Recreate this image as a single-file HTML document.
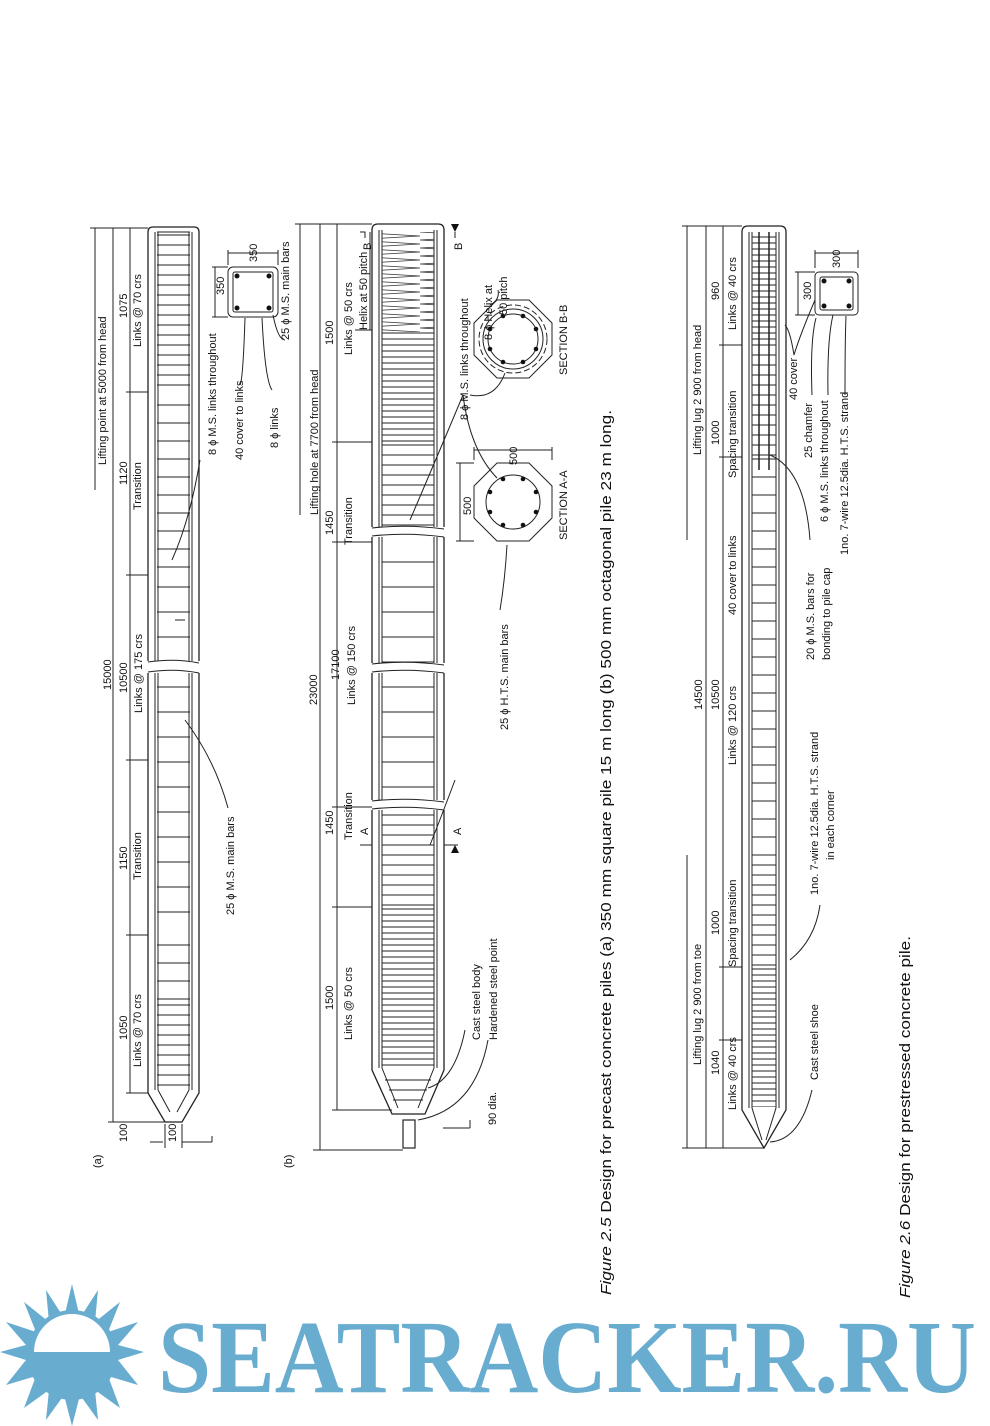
<!DOCTYPE html>
<html><head><meta charset="utf-8"><style>
html,body{margin:0;padding:0;background:#fff;}
svg{display:block;}
text{font-family:"Liberation Sans",sans-serif;fill:#111;}
.t{font-size:11px;}
.cap{font-size:15px;}
</style></head><body>
<svg width="990" height="1426" viewBox="0 0 990 1426" xmlns="http://www.w3.org/2000/svg">
<defs>
<pattern id="l10" width="10" height="10" patternUnits="userSpaceOnUse"><line x1="0" y1="5" x2="10" y2="5" stroke="#222" stroke-width="1"/></pattern>
<pattern id="l25" width="10" height="25" patternUnits="userSpaceOnUse"><line x1="0" y1="12" x2="10" y2="12" stroke="#222" stroke-width="1"/></pattern>
<pattern id="l18" width="10" height="18" patternUnits="userSpaceOnUse"><line x1="0" y1="9" x2="10" y2="9" stroke="#222" stroke-width="1"/></pattern>
<pattern id="l6" width="10" height="6" patternUnits="userSpaceOnUse"><line x1="0" y1="3" x2="10" y2="3" stroke="#222" stroke-width="1"/></pattern>
<pattern id="zz" width="70" height="8" patternUnits="userSpaceOnUse"><path d="M0 0 L70 4 L0 8" fill="none" stroke="#333" stroke-width="0.8"/></pattern>
</defs>
<g stroke="#222" fill="none" stroke-width="1">
<!-- ===== Pile (a) ===== -->
<path d="M148 232 Q148 227 153 227 L194 227 Q199 227 199 232 L199 1093 L182 1122 L165 1122 L148 1093 Z" stroke-width="1.3"/>
<rect x="157" y="232" width="33" height="858" fill="url(#l10)" stroke="none"/>
<rect x="157" y="390" width="33" height="700" fill="#fff" stroke="none"/>
<rect x="157" y="390" width="33" height="180" fill="url(#l18)" stroke="none"/>
<rect x="157" y="570" width="33" height="360" fill="url(#l25)" stroke="none"/>
<rect x="157" y="930" width="33" height="70" fill="url(#l18)" stroke="none"/>
<rect x="157" y="1000" width="33" height="90" fill="url(#l10)" stroke="none"/>
<line x1="155" y1="232" x2="155" y2="1090"/><line x1="158" y1="232" x2="158" y2="1090"/>
<line x1="189" y1="232" x2="189" y2="1090"/><line x1="192" y1="232" x2="192" y2="1090"/>
<line x1="157" y1="232" x2="190" y2="232"/>
<path d="M158 1090 L170 1112 M189 1090 L177 1112"/>
<rect x="146" y="661" width="56" height="12" fill="#fff" stroke="none"/>
<path d="M148 662 Q175 658 199 663 M148 672 Q175 668 199 673"/>
<!-- dims (a) -->
<line x1="95" y1="228" x2="95" y2="490"/>
<line x1="113" y1="228" x2="113" y2="1122"/>
<line x1="130" y1="228" x2="130" y2="1093"/>
<line x1="90" y1="228" x2="148" y2="228"/>
<line x1="126" y1="392" x2="148" y2="392"/>
<line x1="126" y1="575" x2="148" y2="575"/>
<line x1="126" y1="760" x2="148" y2="760"/>
<line x1="126" y1="935" x2="148" y2="935"/>
<line x1="126" y1="1093" x2="148" y2="1093"/>
<line x1="108" y1="1122" x2="165" y2="1122"/>
<line x1="150" y1="1142" x2="163" y2="1142"/><line x1="182" y1="1142" x2="212" y2="1142"/><line x1="212" y1="1136" x2="212" y2="1142"/>
<line x1="165" y1="1124" x2="165" y2="1148"/><line x1="182" y1="1124" x2="182" y2="1148"/>
<!-- section (a) -->
<rect x="228" y="267" width="50" height="50" rx="5"/>
<rect x="233" y="272" width="40" height="40" rx="2"/>
<line x1="212" y1="267" x2="228" y2="267"/><line x1="212" y1="317" x2="228" y2="317"/><line x1="215" y1="267" x2="215" y2="317"/>
<line x1="228" y1="250" x2="228" y2="265"/><line x1="278" y1="250" x2="278" y2="265"/><line x1="228" y1="253" x2="278" y2="253"/>
<path d="M245 318 Q243 380 240 385 M262 318 Q265 380 272 390 M273 315 Q278 340 285 340"/>
<path d="M200 460 Q190 520 172 560 M185 620 L175 620"/>
<path d="M228 808 Q215 760 185 720"/>
<!-- ===== Pile (b) ===== -->
<path d="M372 230 Q372 224 378 224 L438 224 Q444 224 444 230 L444 1070 L425 1114 L392 1114 L372 1070 Z" stroke-width="1.3"/>
<rect x="382" y="232" width="52" height="100" fill="url(#zz)" stroke="none"/>
<rect x="382" y="332" width="52" height="110" fill="url(#l6)" stroke="none"/>
<rect x="382" y="442" width="52" height="100" fill="url(#l10)" stroke="none"/>
<rect x="382" y="542" width="52" height="265" fill="url(#l25)" stroke="none"/>
<rect x="382" y="807" width="52" height="100" fill="url(#l10)" stroke="none"/>
<rect x="382" y="907" width="52" height="160" fill="url(#l6)" stroke="none"/>
<line x1="379" y1="230" x2="379" y2="1068"/><line x1="382" y1="230" x2="382" y2="1068"/>
<line x1="434" y1="230" x2="434" y2="1068"/><line x1="437" y1="230" x2="437" y2="1068"/>
<path d="M382 1068 L398 1108 M434 1068 L418 1108 M385 1080 L431 1080 M389 1090 L427 1090 M393 1100 L423 1100"/>
<rect x="403" y="1120" width="12" height="28" stroke-width="1.2"/>
<rect x="370" y="527" width="78" height="10" fill="#fff" stroke="none"/>
<rect x="370" y="663" width="78" height="10" fill="#fff" stroke="none"/>
<rect x="370" y="800" width="78" height="10" fill="#fff" stroke="none"/>
<path d="M372 528 Q408 524 444 529 M372 536 Q408 532 444 537 M372 664 Q408 660 444 665 M372 672 Q408 668 444 673 M372 801 Q408 797 444 802 M372 809 Q408 805 444 810"/>
<!-- dims (b) -->
<line x1="300" y1="224" x2="300" y2="515"/>
<line x1="320" y1="224" x2="320" y2="1150"/>
<line x1="337" y1="224" x2="337" y2="1110"/>
<line x1="295" y1="224" x2="372" y2="224"/>
<line x1="332" y1="442" x2="372" y2="442"/>
<line x1="332" y1="542" x2="372" y2="542"/>
<line x1="332" y1="807" x2="372" y2="807"/>
<line x1="332" y1="907" x2="372" y2="907"/>
<line x1="332" y1="1110" x2="392" y2="1110"/>
<line x1="313" y1="1150" x2="403" y2="1150"/>
<line x1="370" y1="232" x2="370" y2="330"/><line x1="355" y1="330" x2="372" y2="330"/>
<path d="M360 232 L365 232 L365 238 M455 232 L455 238 M360 845 L365 845 M453 845 L458 845"/>
<line x1="365" y1="845" x2="372" y2="845"/><line x1="444" y1="845" x2="455" y2="845"/>
<line x1="443" y1="1128" x2="470" y2="1128"/><line x1="470" y1="1120" x2="470" y2="1128"/>
<path d="M465 1030 Q455 1080 428 1088 M488 1040 Q475 1110 418 1120"/>
<!-- sections (b) -->
<polygon points="497,300 529,300 552,323 552,355 529,378 497,378 474,355 474,323"/>
<circle cx="513" cy="339" r="30"/><circle cx="513" cy="339" r="25"/>
<circle cx="513" cy="339" r="34" stroke-dasharray="6 3"/>
<polygon points="497,463 529,463 552,486 552,518 529,541 497,541 474,518 474,486"/>
<circle cx="513" cy="502" r="27"/>
<line x1="456" y1="463" x2="474" y2="463"/><line x1="456" y1="541" x2="474" y2="541"/><line x1="460" y1="463" x2="460" y2="541"/>
<line x1="474" y1="447" x2="474" y2="460"/><line x1="552" y1="447" x2="552" y2="460"/><line x1="474" y1="450" x2="552" y2="450"/>
<path d="M463 395 Q470 450 497 478 M463 395 Q440 450 410 520 M505 373 Q495 400 470 395 M490 305 Q500 300 498 290 M507 545 Q505 580 500 610 M455 780 Q440 820 430 845"/>
<!-- ===== Fig 2.6 pile ===== -->
<path d="M742 232 Q742 226 748 226 L780 226 Q786 226 786 232 L786 1110 L764 1148 L742 1110 Z" stroke-width="1.3"/>
<rect x="752" y="232" width="24" height="115" fill="url(#l6)" stroke="none"/>
<rect x="752" y="347" width="24" height="110" fill="url(#l10)" stroke="none"/>
<rect x="752" y="457" width="24" height="400" fill="url(#l18)" stroke="none"/>
<rect x="752" y="857" width="24" height="110" fill="url(#l10)" stroke="none"/>
<rect x="752" y="967" width="24" height="140" fill="url(#l6)" stroke="none"/>
<line x1="749" y1="232" x2="749" y2="1108"/><line x1="752" y1="232" x2="752" y2="1108"/>
<line x1="776" y1="232" x2="776" y2="1108"/><line x1="779" y1="232" x2="779" y2="1108"/>
<line x1="759" y1="232" x2="759" y2="470" stroke-width="1.5"/><line x1="769" y1="232" x2="769" y2="470" stroke-width="1.5"/>
<path d="M752 1108 L762 1140 M776 1108 L766 1140"/>
<!-- dims 2.6 -->
<line x1="687" y1="226" x2="687" y2="540"/><line x1="687" y1="855" x2="687" y2="1148"/>
<line x1="706" y1="226" x2="706" y2="1148"/>
<line x1="723" y1="226" x2="723" y2="1148"/>
<line x1="682" y1="226" x2="742" y2="226"/>
<line x1="719" y1="345" x2="742" y2="345"/>
<line x1="719" y1="457" x2="742" y2="457"/>
<line x1="719" y1="967" x2="742" y2="967"/>
<line x1="719" y1="1040" x2="742" y2="1040"/>
<line x1="682" y1="1148" x2="764" y2="1148"/>
<rect x="815" y="272" width="43" height="43" rx="4"/>
<rect x="820" y="277" width="33" height="33" rx="2"/>
<line x1="795" y1="272" x2="815" y2="272"/><line x1="795" y1="315" x2="815" y2="315"/><line x1="798" y1="272" x2="798" y2="315"/>
<line x1="815" y1="250" x2="815" y2="268"/><line x1="858" y1="250" x2="858" y2="268"/><line x1="815" y1="253" x2="858" y2="253"/>
<path d="M794 355 Q800 335 815 300 M794 355 Q790 330 785 325 M812 395 Q810 340 816 318 M828 395 Q827 340 833 315 M845 395 Q845 340 846 316"/>
<path d="M810 540 Q805 470 770 455 M812 1090 Q800 1140 770 1142 M820 905 Q815 940 790 960"/>
</g>
<g fill="#111">
<circle cx="237" cy="276" r="2.5"/><circle cx="269" cy="276" r="2.5"/><circle cx="237" cy="308" r="2.5"/><circle cx="269" cy="308" r="2.5"/>
<circle cx="824" cy="281" r="2.5"/><circle cx="849" cy="281" r="2.5"/><circle cx="824" cy="306" r="2.5"/><circle cx="849" cy="306" r="2.5"/>
<circle cx="503" cy="316" r="2.3"/><circle cx="523" cy="316" r="2.3"/><circle cx="536" cy="329" r="2.3"/><circle cx="536" cy="349" r="2.3"/><circle cx="523" cy="362" r="2.3"/><circle cx="503" cy="362" r="2.3"/><circle cx="490" cy="349" r="2.3"/><circle cx="490" cy="329" r="2.3"/>
<circle cx="503" cy="479" r="2.3"/><circle cx="523" cy="479" r="2.3"/><circle cx="536" cy="492" r="2.3"/><circle cx="536" cy="512" r="2.3"/><circle cx="523" cy="525" r="2.3"/><circle cx="503" cy="525" r="2.3"/><circle cx="490" cy="512" r="2.3"/><circle cx="490" cy="492" r="2.3"/>
<path d="M455 232 l-4 -8 l8 0 Z M455 845 l-4 8 l8 0 Z"/>
</g>
<!-- text (a) -->
<g class="t">
<text transform="translate(106,465) rotate(-90)">Lifting point at 5000 from head</text>
<text transform="translate(111,690) rotate(-90)">15000</text>
<text transform="translate(127,318) rotate(-90)">1075</text>
<text transform="translate(141,347) rotate(-90)">Links @ 70 crs</text>
<text transform="translate(127,485) rotate(-90)">1120</text>
<text transform="translate(141,510) rotate(-90)">Transition</text>
<text transform="translate(127,693) rotate(-90)">10500</text>
<text transform="translate(142,713) rotate(-90)">Links @ 175 crs</text>
<text transform="translate(127,870) rotate(-90)">1150</text>
<text transform="translate(141,880) rotate(-90)">Transition</text>
<text transform="translate(127,1040) rotate(-90)">1050</text>
<text transform="translate(141,1067) rotate(-90)">Links @ 70 crs</text>
<text transform="translate(127,1142) rotate(-90)">100</text>
<text transform="translate(176,1142) rotate(-90)">100</text>
<text transform="translate(101,1168) rotate(-90)">(a)</text>
<text transform="translate(216,455) rotate(-90)">8 ϕ M.S. links throughout</text>
<text transform="translate(243,460) rotate(-90)">40 cover to links</text>
<text transform="translate(278,448) rotate(-90)">8 ϕ links</text>
<text transform="translate(289,340) rotate(-90)">25 ϕ M.S. main bars</text>
<text transform="translate(224,295) rotate(-90)">350</text>
<text transform="translate(257,262) rotate(-90)">350</text>
<text transform="translate(234,915) rotate(-90)">25 ϕ M.S. main bars</text>
<!-- (b) -->
<text transform="translate(318,515) rotate(-90)">Lifting hole at 7700 from head</text>
<text transform="translate(317,705) rotate(-90)">23000</text>
<text transform="translate(333,345) rotate(-90)">1500</text>
<text transform="translate(352,355) rotate(-90)">Links @ 50 crs</text>
<text transform="translate(367,330) rotate(-90)">Helix at 50 pitch</text>
<text transform="translate(371,250) rotate(-90)">B</text>
<text transform="translate(462,250) rotate(-90)">B</text>
<text transform="translate(333,535) rotate(-90)">1450</text>
<text transform="translate(352,545) rotate(-90)">Transition</text>
<text transform="translate(339,680) rotate(-90)">17100</text>
<text transform="translate(355,705) rotate(-90)">Links @ 150 crs</text>
<text transform="translate(333,835) rotate(-90)">1450</text>
<text transform="translate(352,840) rotate(-90)">Transition</text>
<text transform="translate(368,835) rotate(-90)">A</text>
<text transform="translate(461,835) rotate(-90)">A</text>
<text transform="translate(333,1010) rotate(-90)">1500</text>
<text transform="translate(352,1040) rotate(-90)">Links @ 50 crs</text>
<text transform="translate(292,1168) rotate(-90)">(b)</text>
<text transform="translate(480,1040) rotate(-90)">Cast steel body</text>
<text transform="translate(497,1040) rotate(-90)">Hardened steel point</text>
<text transform="translate(496,1125) rotate(-90)">90 dia.</text>
<text transform="translate(508,730) rotate(-90)">25 ϕ H.T.S. main bars</text>
<text transform="translate(468,420) rotate(-90)">8 ϕ M.S. links throughout</text>
<text transform="translate(492,340) rotate(-90)">8 ϕ Helix at</text>
<text transform="translate(507,315) rotate(-90)">50 pitch</text>
<text transform="translate(567,375) rotate(-90)">SECTION B-B</text>
<text transform="translate(567,540) rotate(-90)">SECTION A-A</text>
<text transform="translate(471,515) rotate(-90)">500</text>
<text transform="translate(517,465) rotate(-90)">500</text>
<!-- 2.6 -->
<text transform="translate(701,455) rotate(-90)">Lifting lug 2 900 from head</text>
<text transform="translate(701,1065) rotate(-90)">Lifting lug 2 900 from toe</text>
<text transform="translate(702,710) rotate(-90)">14500</text>
<text transform="translate(719,300) rotate(-90)">960</text>
<text transform="translate(736,330) rotate(-90)">Links @ 40 crs</text>
<text transform="translate(719,445) rotate(-90)">1000</text>
<text transform="translate(736,478) rotate(-90)">Spacing transition</text>
<text transform="translate(719,710) rotate(-90)">10500</text>
<text transform="translate(736,765) rotate(-90)">Links @ 120 crs</text>
<text transform="translate(736,615) rotate(-90)">40 cover to links</text>
<text transform="translate(719,935) rotate(-90)">1000</text>
<text transform="translate(736,967) rotate(-90)">Spacing transition</text>
<text transform="translate(719,1075) rotate(-90)">1040</text>
<text transform="translate(736,1110) rotate(-90)">Links @ 40 crs</text>
<text transform="translate(818,1080) rotate(-90)">Cast steel shoe</text>
<text transform="translate(797,400) rotate(-90)">40 cover</text>
<text transform="translate(812,458) rotate(-90)">25 chamfer</text>
<text transform="translate(828,522) rotate(-90)">6 ϕ M.S. links throughout</text>
<text transform="translate(848,555) rotate(-90)">1no. 7-wire 12.5dia. H.T.S. strand</text>
<text transform="translate(814,660) rotate(-90)">20 ϕ M.S. bars for</text>
<text transform="translate(830,660) rotate(-90)">bonding to pile cap</text>
<text transform="translate(818,895) rotate(-90)">1no. 7-wire 12.5dia. H.T.S. strand</text>
<text transform="translate(834,860) rotate(-90)">in each corner</text>
<text transform="translate(811,300) rotate(-90)">300</text>
<text transform="translate(840,268) rotate(-90)">300</text>
</g>
<text class="cap" transform="translate(611,1295) rotate(-90)" textLength="885" lengthAdjust="spacingAndGlyphs"><tspan font-style="italic">Figure 2.5</tspan>  Design for precast concrete piles (a) 350 mm square pile 15 m long (b) 500 mm octagonal pile 23 m long.</text>
<text class="cap" transform="translate(910,1298) rotate(-90)" textLength="362" lengthAdjust="spacingAndGlyphs"><tspan font-style="italic">Figure 2.6</tspan>  Design for prestressed concrete pile.</text>
<!-- watermark -->
<g style="fill:#68acd0">
<polygon points="72,1284 80,1318 98,1290 95,1322 120,1302 108,1332 138,1322 118,1345 144,1352 118,1360 138,1385 108,1376 120,1408 95,1390 98,1420 80,1395 72,1426 64,1395 46,1420 49,1390 24,1408 36,1376 6,1385 26,1360 0,1352 26,1345 6,1322 36,1332 24,1302 49,1322 46,1290 64,1318"/>
<circle cx="72" cy="1355" r="45"/>
</g>
<path d="M34 1352 A38 38 0 0 1 110 1352 Z" style="fill:#fff"/>
<text x="158" y="1392" font-size="104" textLength="818" lengthAdjust="spacingAndGlyphs" style="font-family:'Liberation Serif',serif;font-weight:bold;fill:#68acd0">SEATRACKER.RU</text>
</svg>
</body></html>
